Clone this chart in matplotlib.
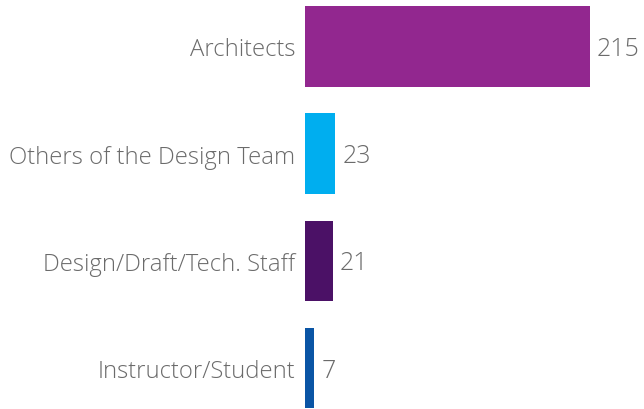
import matplotlib
matplotlib.use("Agg")
import matplotlib.pyplot as plt

categories = ["Architects", "Others of the Design Team", "Design/Draft/Tech. Staff", "Instructor/Student"]
values = [215, 23, 21, 7]
colors = ["#92278F", "#00AEEF", "#4B1166", "#0A55A5"]

plt.rcParams['font.family'] = ['Open Sans', 'DejaVu Sans']
text_color = "#6b6b6b"

fig = plt.figure(figsize=(6.44, 4.10), dpi=100)
ax = fig.add_axes([305/644, 0, 339/644, 1])

y = list(range(len(categories)))
ax.barh(y, values, height=0.75, color=colors)
ax.set_xlim(0, 339/1.326)
ax.set_ylim(3 + (410-369)/107.17, -47.5/107.17)

for yi, v in zip(y, values):
    ax.annotate(str(v), xy=(v, yi), xytext=(5, -1.5), textcoords="offset points",
                va="center", ha="left", fontsize=18, color=text_color, fontweight='light')

ax.set_yticks(y)
ax.set_yticklabels(categories, fontsize=17.2, color=text_color, fontweight='light')
ax.tick_params(axis='y', length=0, pad=7)
ax.set_xticks([])
for s in ax.spines.values():
    s.set_visible(False)

fig.savefig("out.png", dpi=100)
